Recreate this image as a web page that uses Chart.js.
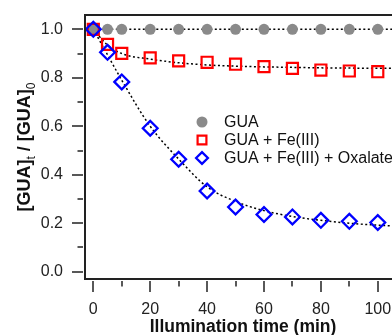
<!DOCTYPE html>
<html>
<head>
<meta charset="utf-8">
<script src="https://cdn.jsdelivr.net/npm/chart.js@4.4.0/dist/chart.umd.min.js"></script>
<style>
body{margin:0;background:#fff;}
</style>
</head>
<body>
<canvas id="chart" width="392" height="335"></canvas>
<script>
// illumination time (min)
var times=[0, 5, 10, 20, 30, 40, 50, 60, 70, 80, 90, 100];
// [GUA]t / [GUA]0
var gua=[1.0, 1.0, 1.0, 1.0, 1.0, 1.0, 1.0, 1.0, 1.0, 1.0, 1.0, 1.0];
var guaFe=[1.0, 0.938, 0.901, 0.882, 0.870, 0.864, 0.856, 0.846, 0.839, 0.832, 0.828, 0.825];
var guaFeOx=[1.0, 0.905, 0.783, 0.592, 0.464, 0.333, 0.267, 0.236, 0.226, 0.212, 0.208, 0.203];

// dotted fit curves
var fitTimes=[0, 5, 10, 20, 30, 40, 50, 60, 70, 80, 90, 100, 106];
var fitGua=[1.0, 1.0, 1.0, 1.0, 1.0, 1.0, 1.0, 1.0, 1.0, 1.0, 1.0, 1.0, 1.0];
var fitFe=[1.0, 0.935, 0.900, 0.877, 0.862, 0.853, 0.848, 0.845, 0.843, 0.841, 0.840, 0.839, 0.839];
var fitOx=[1.0, 0.895, 0.790, 0.600, 0.465, 0.350, 0.290, 0.252, 0.228, 0.212, 0.200, 0.192, 0.189];

var xTicks=[0, 20, 40, 60, 80, 100];
var xMinor=[10, 30, 50, 70, 90];
var yTicks=[0, 0.2, 0.4, 0.6, 0.8, 1.0];
var yMinor=[0.1, 0.3, 0.5, 0.7, 0.9];
var seriesNames=['GUA', 'GUA + Fe(III)', 'GUA + Fe(III) + Oxalate'];
var xTitle='Illumination time (min)';

var FONT='"Liberation Sans", Arial, sans-serif';
Chart.defaults.font.family=FONT;

function pts(xs, ys){
	var out=[];
	for(var i=0; i<xs.length; i++){
		out.push({x:xs[i], y:ys[i]});
	}
	return out;
}

function fitSet(ys){
	return {
		data:pts(fitTimes, ys),
		showLine:true,
		pointRadius:0,
		borderColor:'#000',
		borderWidth:1.5,
		borderDash:[2,2.5],
		cubicInterpolationMode:'monotone',
		order:10
	};
}

var markers=[
	{pointStyle:'circle', radius:5.5, fill:'#8a8a8a', stroke:'#8a8a8a', width:0},
	{pointStyle:'rect', radius:7.8, fill:'rgba(0,0,0,0)', stroke:'#ff0000', width:2.2},
	{pointStyle:'rectRot', radius:7.4, fill:'rgba(0,0,0,0)', stroke:'#0000ff', width:2.3}
];

function markerSet(ys, m, order){
	return {
		data:pts(times, ys),
		showLine:false,
		pointStyle:m.pointStyle,
		pointRadius:m.radius,
		backgroundColor:m.fill,
		borderColor:m.stroke,
		borderWidth:m.width,
		order:order
	};
}

// frame, minor ticks, titles and the in-plot legend
var decor={
	id:'decor',
	afterDraw:function(chart){
		var ctx=chart.ctx;
		var a=chart.chartArea;
		var xs=chart.scales.x, ys=chart.scales.y;
		ctx.save();
		ctx.strokeStyle='#222';
		ctx.lineWidth=2;
		ctx.beginPath();
		ctx.moveTo(chart.width, a.top);
		ctx.lineTo(a.left, a.top);
		ctx.lineTo(a.left, a.bottom);
		ctx.lineTo(chart.width, a.bottom);
		ctx.stroke();
		ctx.lineWidth=1.5;
		ctx.beginPath();
		xTicks.forEach(function(v){
			var p=Math.round(xs.getPixelForValue(v));
			ctx.moveTo(p, a.bottom+2);
			ctx.lineTo(p, a.bottom+13);
		});
		xMinor.forEach(function(v){
			var p=Math.round(xs.getPixelForValue(v));
			ctx.moveTo(p, a.bottom+2);
			ctx.lineTo(p, a.bottom+7.5);
		});
		yTicks.forEach(function(v){
			var p=Math.round(ys.getPixelForValue(v));
			ctx.moveTo(a.left-2, p);
			ctx.lineTo(a.left-13, p);
		});
		yMinor.forEach(function(v){
			var p=Math.round(ys.getPixelForValue(v));
			ctx.moveTo(a.left-2, p);
			ctx.lineTo(a.left-7.5, p);
		});
		ctx.stroke();

		// x title
		ctx.fillStyle='#111';
		ctx.font='bold 17.5px '+FONT;
		ctx.textAlign='center';
		ctx.textBaseline='middle';
		ctx.fillText(xTitle, a.left+158, a.bottom+48);

		// y title with subscripts
		var parts=[
			{t:'[GUA]', f:'bold 18px '+FONT, dy:0},
			{t:'t', f:'12px '+FONT, dy:5},
			{t:' / [GUA]', f:'bold 18px '+FONT, dy:0},
			{t:'0', f:'12px '+FONT, dy:5}
		];
		var total=0;
		parts.forEach(function(p){ ctx.font=p.f; p.w=ctx.measureText(p.t).width; total+=p.w; });
		ctx.translate(23, (a.top+a.bottom)/2);
		ctx.rotate(-Math.PI/2);
		ctx.textAlign='left';
		ctx.textBaseline='alphabetic';
		var cx=-total/2;
		parts.forEach(function(p){
			ctx.font=p.f;
			ctx.fillText(p.t, cx, 6.5+p.dy);
			cx+=p.w;
		});
		ctx.restore();

		// legend inside the plot
		ctx.save();
		var lx=a.left+117, ly=a.top+107;
		ctx.font='16px '+FONT;
		ctx.textAlign='left';
		ctx.textBaseline='middle';
		for(var i=0; i<seriesNames.length; i++){
			var m=markers[i];
			var yy=ly+i*18;
			ctx.fillStyle=m.fill;
			ctx.strokeStyle=m.stroke;
			ctx.lineWidth=m.width;
			Chart.helpers.drawPoint(ctx, {pointStyle:m.pointStyle, radius:m.radius*(i==0?1:0.8), rotation:0, borderWidth:m.width}, lx, yy);
			ctx.fillStyle='#111';
			ctx.fillText(seriesNames[i], lx+22, yy+0.5);
		}
		ctx.restore();
	}
};

new Chart(document.getElementById('chart'), {
	type:'scatter',
	data:{
		datasets:[
			fitSet(fitGua),
			fitSet(fitFe),
			fitSet(fitOx),
			markerSet(gua, markers[0], 3),
			markerSet(guaFe, markers[1], 2),
			markerSet(guaFeOx, markers[2], 1)
		]
	},
	options:{
		responsive:false,
		animation:false,
		layout:{autoPadding:false, padding:{top:15, right:0, bottom:0, left:0}},
		plugins:{legend:{display:false}, tooltip:{enabled:false}},
		scales:{
			x:{
				type:'linear',
				min:-2.92,
				max:105,
				grid:{display:false, drawTicks:false},
				border:{display:false},
				ticks:{font:{size:16}, color:'#222', padding:21, maxRotation:0},
				afterBuildTicks:function(scale){
					scale.ticks=xTicks.map(function(v){ return {value:v}; });
				},
				afterFit:function(scale){
					scale.height=56;
					scale.paddingLeft=0;
					scale.paddingRight=0;
				}
			},
			y:{
				type:'linear',
				min:-0.03,
				max:1.059,
				grid:{display:false, drawTicks:false},
				border:{display:false},
				ticks:{font:{size:16}, color:'#222', padding:22,
					callback:function(v){ return v.toFixed(1); }},
				afterBuildTicks:function(scale){
					scale.ticks=yTicks.map(function(v){ return {value:v}; });
				},
				afterFit:function(scale){
					scale.width=85;
					scale.paddingTop=0;
					scale.paddingBottom=0;
				}
			}
		}
	},
	plugins:[decor]
});
</script>
</body>
</html>
